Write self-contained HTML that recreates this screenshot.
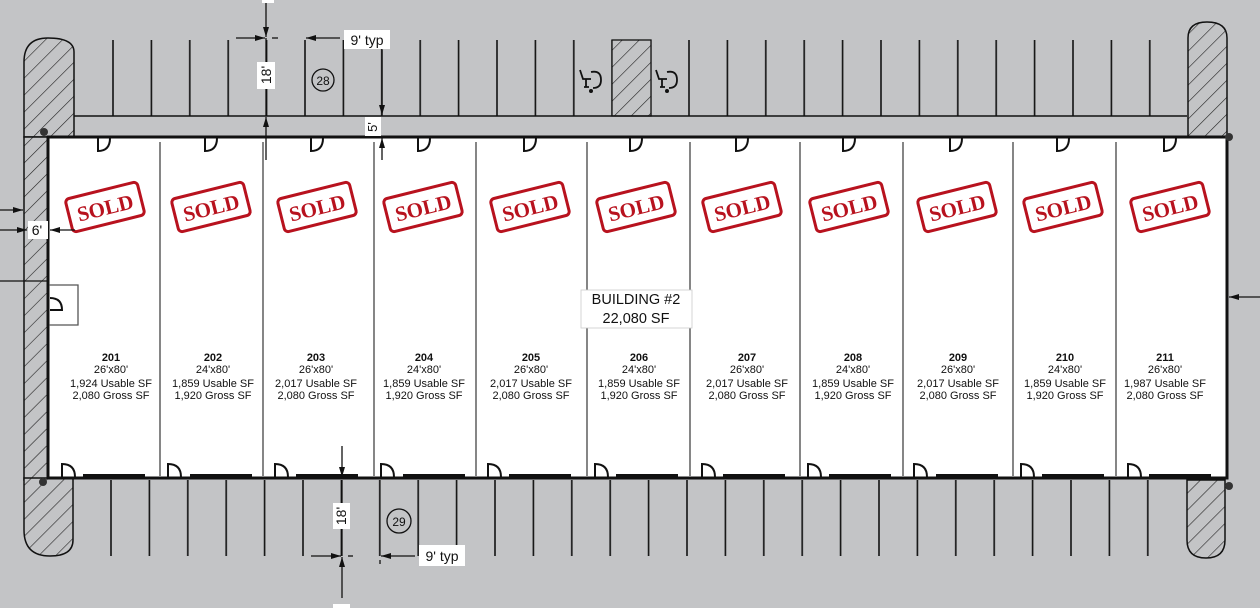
<!DOCTYPE html>
<html><head><meta charset="utf-8"><style>
html,body{margin:0;padding:0;background:#c3c4c6;}
svg{display:block;}
.sans{font-family:"Liberation Sans",sans-serif;}
.serif{font-family:"Liberation Serif",serif;font-weight:bold;}
</style></head><body>
<svg width="1260" height="608" viewBox="0 0 1260 608" xmlns="http://www.w3.org/2000/svg">
<defs>
<pattern id="hatch" patternUnits="userSpaceOnUse" width="12" height="12" patternTransform="rotate(45)">
<rect width="12" height="12" fill="#c3c4c6"/><line x1="0" y1="0" x2="0" y2="12" stroke="#222" stroke-width="1.2"/></pattern>
<pattern id="stT" patternUnits="userSpaceOnUse" x="112" y="0" width="38.4" height="608"><line x1="1" y1="0" x2="1" y2="608" stroke="#111" stroke-width="1.6"/></pattern>
<pattern id="stB" patternUnits="userSpaceOnUse" x="110" y="0" width="38.4" height="608"><line x1="1" y1="0" x2="1" y2="608" stroke="#111" stroke-width="1.6"/></pattern>
<marker id="ar" markerWidth="10" markerHeight="8" refX="10" refY="4" orient="auto" markerUnits="userSpaceOnUse"><path d="M0,1 L10,4 L0,7 Z" fill="#111"/></marker>
</defs>
<rect width="1260" height="608" fill="#c3c4c6"/>
<rect x="112" y="40" width="1040" height="76" fill="url(#stT)"/>
<rect x="110" y="480" width="1040" height="76" fill="url(#stB)"/>
<rect x="612" y="40" width="39" height="76" fill="url(#hatch)" stroke="#111" stroke-width="1.3"/>
<g fill="none" stroke="#111" stroke-width="1.8">
<path d="M580,70 l3,9 h8 M586,79 v8 M584,87 h5"/><path d="M591,72 q10,-2 10,8 q0,8 -8,8"/>
<path d="M656,70 l3,9 h8 M662,79 v8 M660,87 h5"/><path d="M667,72 q10,-2 10,8 q0,8 -8,8"/>
</g>
<circle cx="591" cy="91" r="2" fill="#111"/><circle cx="667" cy="91" r="2" fill="#111"/>
<line x1="74" y1="116" x2="1187" y2="116" stroke="#111" stroke-width="1.6"/>
<path d="M24,137 V62 Q24,38 48,38 Q74,38 74,52 V137 Z" fill="url(#hatch)" stroke="#111" stroke-width="1.5"/>
<rect x="24" y="137" width="24" height="343" fill="url(#hatch)" stroke="#111" stroke-width="1.5"/>
<path d="M24,478 V530 Q24,556 50,556 Q73,556 73,540 V478 Z" fill="url(#hatch)" stroke="#111" stroke-width="1.5"/>
<path d="M1188,137 V38 Q1188,22 1207,22 Q1227,22 1227,38 V137 Z" fill="url(#hatch)" stroke="#111" stroke-width="1.5"/>
<path d="M1187,480 V540 Q1187,558 1206,558 Q1225,558 1225,540 V480 Z" fill="url(#hatch)" stroke="#111" stroke-width="1.5"/>
<rect x="48" y="137" width="1179" height="341" fill="#fff" stroke="#111" stroke-width="3"/>
<g stroke="#444" stroke-width="1.3">
<line x1="160" y1="142" x2="160" y2="476"/><line x1="263" y1="142" x2="263" y2="476"/>
<line x1="374" y1="142" x2="374" y2="476"/><line x1="476" y1="142" x2="476" y2="476"/>
<line x1="587" y1="142" x2="587" y2="290"/><line x1="587" y1="328" x2="587" y2="476"/>
<line x1="690" y1="142" x2="690" y2="290"/><line x1="690" y1="328" x2="690" y2="476"/>
<line x1="800" y1="142" x2="800" y2="476"/><line x1="903" y1="142" x2="903" y2="476"/>
<line x1="1013" y1="142" x2="1013" y2="476"/><line x1="1116" y1="142" x2="1116" y2="476"/>
</g>
<circle cx="44" cy="132" r="4" fill="#333"/><circle cx="1229" cy="137" r="4" fill="#333"/>
<circle cx="43" cy="482" r="4" fill="#333"/><circle cx="1229" cy="486" r="4" fill="#333"/>
<g fill="none" stroke="#111" stroke-width="2">
<path d="M98,138 v13 q12,0 12,-13"/><path d="M205,138 v13 q12,0 12,-13"/><path d="M311,138 v13 q12,0 12,-13"/>
<path d="M418,138 v13 q12,0 12,-13"/><path d="M524,138 v13 q12,0 12,-13"/><path d="M630,138 v13 q12,0 12,-13"/>
<path d="M736,138 v13 q12,0 12,-13"/><path d="M843,138 v13 q12,0 12,-13"/><path d="M950,138 v13 q12,0 12,-13"/>
<path d="M1057,138 v13 q12,0 12,-13"/><path d="M1164,138 v13 q12,0 12,-13"/>
</g>
<g fill="none" stroke="#111" stroke-width="2">
<path d="M62,477 v-13 q13,0 13,13"/><path d="M168,477 v-13 q13,0 13,13"/><path d="M275,477 v-13 q13,0 13,13"/>
<path d="M381,477 v-13 q13,0 13,13"/><path d="M488,477 v-13 q13,0 13,13"/><path d="M595,477 v-13 q13,0 13,13"/>
<path d="M702,477 v-13 q13,0 13,13"/><path d="M808,477 v-13 q13,0 13,13"/><path d="M914,477 v-13 q13,0 13,13"/>
<path d="M1021,477 v-13 q13,0 13,13"/><path d="M1128,477 v-13 q13,0 13,13"/>
</g>
<g fill="#111">
<rect x="83" y="474" width="62" height="3"/><rect x="190" y="474" width="62" height="3"/><rect x="296" y="474" width="62" height="3"/>
<rect x="403" y="474" width="62" height="3"/><rect x="509" y="474" width="62" height="3"/><rect x="616" y="474" width="62" height="3"/>
<rect x="723" y="474" width="62" height="3"/><rect x="829" y="474" width="62" height="3"/><rect x="936" y="474" width="62" height="3"/>
<rect x="1042" y="474" width="62" height="3"/><rect x="1149" y="474" width="62" height="3"/>
</g>
<path d="M49,285 H78 V325 H49" fill="none" stroke="#555" stroke-width="1.3"/>
<path d="M50,298 q12,0 12,12 h-12" fill="none" stroke="#111" stroke-width="2"/>
<g class="serif" font-size="21" fill="#b8121e" text-anchor="middle">
<g transform="translate(105,207) rotate(-14)"><rect x="-37" y="-17" width="74" height="34" rx="4" fill="none" stroke="#b8121e" stroke-width="3"/><text y="8" class="serif">SOLD</text></g>
<g transform="translate(211,207) rotate(-14)"><rect x="-37" y="-17" width="74" height="34" rx="4" fill="none" stroke="#b8121e" stroke-width="3"/><text y="8" class="serif">SOLD</text></g>
<g transform="translate(317,207) rotate(-14)"><rect x="-37" y="-17" width="74" height="34" rx="4" fill="none" stroke="#b8121e" stroke-width="3"/><text y="8" class="serif">SOLD</text></g>
<g transform="translate(423,207) rotate(-14)"><rect x="-37" y="-17" width="74" height="34" rx="4" fill="none" stroke="#b8121e" stroke-width="3"/><text y="8" class="serif">SOLD</text></g>
<g transform="translate(530,207) rotate(-14)"><rect x="-37" y="-17" width="74" height="34" rx="4" fill="none" stroke="#b8121e" stroke-width="3"/><text y="8" class="serif">SOLD</text></g>
<g transform="translate(636,207) rotate(-14)"><rect x="-37" y="-17" width="74" height="34" rx="4" fill="none" stroke="#b8121e" stroke-width="3"/><text y="8" class="serif">SOLD</text></g>
<g transform="translate(742,207) rotate(-14)"><rect x="-37" y="-17" width="74" height="34" rx="4" fill="none" stroke="#b8121e" stroke-width="3"/><text y="8" class="serif">SOLD</text></g>
<g transform="translate(849,207) rotate(-14)"><rect x="-37" y="-17" width="74" height="34" rx="4" fill="none" stroke="#b8121e" stroke-width="3"/><text y="8" class="serif">SOLD</text></g>
<g transform="translate(957,207) rotate(-14)"><rect x="-37" y="-17" width="74" height="34" rx="4" fill="none" stroke="#b8121e" stroke-width="3"/><text y="8" class="serif">SOLD</text></g>
<g transform="translate(1063,207) rotate(-14)"><rect x="-37" y="-17" width="74" height="34" rx="4" fill="none" stroke="#b8121e" stroke-width="3"/><text y="8" class="serif">SOLD</text></g>
<g transform="translate(1170,207) rotate(-14)"><rect x="-37" y="-17" width="74" height="34" rx="4" fill="none" stroke="#b8121e" stroke-width="3"/><text y="8" class="serif">SOLD</text></g>
</g>
<rect x="581" y="290" width="111" height="38" fill="#fff" stroke="#ccc" stroke-width="0.8"/>
<text class="sans" x="636" y="304" font-size="14.5" text-anchor="middle" fill="#111">BUILDING #2</text>
<text class="sans" x="636" y="323" font-size="14.5" text-anchor="middle" fill="#111">22,080 SF</text>
<g class="sans" font-size="11" text-anchor="middle" fill="#111">
<text x="111" y="361" font-weight="bold">201</text><text x="111" y="373">26'x80'</text><text x="111" y="387">1,924 Usable SF</text><text x="111" y="399">2,080 Gross SF</text>
<text x="213" y="361" font-weight="bold">202</text><text x="213" y="373">24'x80'</text><text x="213" y="387">1,859 Usable SF</text><text x="213" y="399">1,920 Gross SF</text>
<text x="316" y="361" font-weight="bold">203</text><text x="316" y="373">26'x80'</text><text x="316" y="387">2,017 Usable SF</text><text x="316" y="399">2,080 Gross SF</text>
<text x="424" y="361" font-weight="bold">204</text><text x="424" y="373">24'x80'</text><text x="424" y="387">1,859 Usable SF</text><text x="424" y="399">1,920 Gross SF</text>
<text x="531" y="361" font-weight="bold">205</text><text x="531" y="373">26'x80'</text><text x="531" y="387">2,017 Usable SF</text><text x="531" y="399">2,080 Gross SF</text>
<text x="639" y="361" font-weight="bold">206</text><text x="639" y="373">24'x80'</text><text x="639" y="387">1,859 Usable SF</text><text x="639" y="399">1,920 Gross SF</text>
<text x="747" y="361" font-weight="bold">207</text><text x="747" y="373">26'x80'</text><text x="747" y="387">2,017 Usable SF</text><text x="747" y="399">2,080 Gross SF</text>
<text x="853" y="361" font-weight="bold">208</text><text x="853" y="373">24'x80'</text><text x="853" y="387">1,859 Usable SF</text><text x="853" y="399">1,920 Gross SF</text>
<text x="958" y="361" font-weight="bold">209</text><text x="958" y="373">26'x80'</text><text x="958" y="387">2,017 Usable SF</text><text x="958" y="399">2,080 Gross SF</text>
<text x="1065" y="361" font-weight="bold">210</text><text x="1065" y="373">24'x80'</text><text x="1065" y="387">1,859 Usable SF</text><text x="1065" y="399">1,920 Gross SF</text>
<text x="1165" y="361" font-weight="bold">211</text><text x="1165" y="373">26'x80'</text><text x="1165" y="387">1,987 Usable SF</text><text x="1165" y="399">2,080 Gross SF</text>
</g>
<g stroke="#111" stroke-width="1.3" fill="none">
<line x1="266" y1="0" x2="266" y2="37" marker-end="url(#ar)"/>
<line x1="266" y1="160" x2="266" y2="117" marker-end="url(#ar)"/>
<line x1="266" y1="38" x2="266" y2="116"/>
<line x1="236" y1="38" x2="265" y2="38" marker-end="url(#ar)"/>
<line x1="272" y1="38" x2="278" y2="38"/>
<line x1="340" y1="38" x2="306" y2="38" marker-end="url(#ar)"/>
<line x1="382" y1="50" x2="382" y2="115" marker-end="url(#ar)"/>
<line x1="382" y1="160" x2="382" y2="138" marker-end="url(#ar)"/>
<line x1="0" y1="210" x2="23" y2="210" marker-end="url(#ar)"/>
<line x1="0" y1="230" x2="27" y2="230" marker-end="url(#ar)"/>
<line x1="75" y1="230" x2="50" y2="230" marker-end="url(#ar)"/>
<line x1="0" y1="281" x2="47" y2="281"/>
<line x1="1260" y1="297" x2="1229" y2="297" marker-end="url(#ar)"/>
<line x1="342" y1="446" x2="342" y2="477" marker-end="url(#ar)"/>
<line x1="342" y1="480" x2="342" y2="556"/>
<line x1="342" y1="598" x2="342" y2="557" marker-end="url(#ar)"/>
<line x1="311" y1="556" x2="341" y2="556" marker-end="url(#ar)"/>
<line x1="348" y1="556" x2="353" y2="556"/>
<line x1="415" y1="556" x2="381" y2="556" marker-end="url(#ar)"/>
<line x1="380" y1="560" x2="380" y2="564"/>
</g>
<rect x="262" y="0" width="12" height="3" fill="#fff"/>
<rect x="257" y="62" width="18" height="27" fill="#fff"/>
<text class="sans" transform="translate(271,75) rotate(-90)" font-size="14" text-anchor="middle" fill="#111">18'</text>
<rect x="344" y="30" width="46" height="19" fill="#fff"/>
<text class="sans" x="367" y="45" font-size="14" text-anchor="middle" fill="#111">9' typ</text>
<circle cx="323" cy="80" r="11" fill="none" stroke="#111" stroke-width="1.3"/>
<text class="sans" x="323" y="85" font-size="12" text-anchor="middle" fill="#111">28</text>
<rect x="365" y="117" width="16" height="19" fill="#fff"/>
<text class="sans" transform="translate(377,127) rotate(-90)" font-size="13" text-anchor="middle" fill="#111">5'</text>
<rect x="28" y="221" width="20" height="18" fill="#fff"/>
<text class="sans" x="37" y="235" font-size="14" text-anchor="middle" fill="#111">6'</text>
<rect x="333" y="503" width="17" height="26" fill="#fff"/>
<text class="sans" transform="translate(346,516) rotate(-90)" font-size="14" text-anchor="middle" fill="#111">18'</text>
<rect x="419" y="545" width="46" height="21" fill="#fff"/>
<text class="sans" x="442" y="561" font-size="14" text-anchor="middle" fill="#111">9' typ</text>
<circle cx="399" cy="521" r="12" fill="none" stroke="#111" stroke-width="1.3"/>
<text class="sans" x="399" y="526" font-size="12" text-anchor="middle" fill="#111">29</text>
<rect x="333" y="604" width="17" height="4" fill="#fff"/>
</svg>
</body></html>
